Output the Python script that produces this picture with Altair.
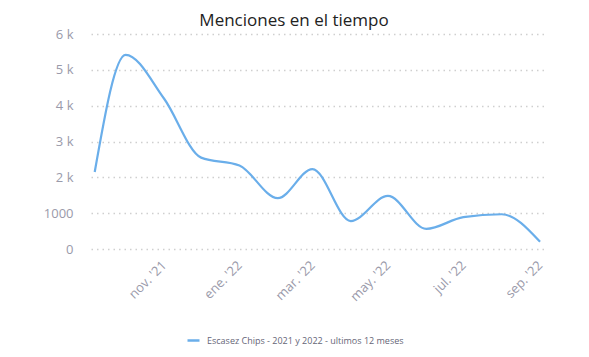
import altair as alt
import pandas as pd

dates = ["2021-09-06", "2021-10-01", "2021-11-01", "2021-12-01", "2022-01-01",
         "2022-02-01", "2022-03-01", "2022-04-01", "2022-05-01", "2022-06-01",
         "2022-07-01", "2022-08-01", "2022-09-01"]
values = [2150, 5420, 4200, 2550, 2330, 1420, 2230, 780, 1480, 560, 890, 970, 200]
series_name = "Escasez Chips - 2021 y 2022 - ultimos 12 meses"
y_ticks = [0, 1000, 2000, 3000, 4000, 5000, 6000]
x_ticks = [(2021, 11), (2022, 1), (2022, 3), (2022, 5), (2022, 7), (2022, 9)]

df = pd.DataFrame({
    "fecha": [d + "T00:00:00" for d in dates],
    "menciones": values,
    "serie": [series_name] * len(values),
})

font = "Open Sans"
label_color = "#9a9aaa"

month_expr = "['ene.','feb.','mar.','abr.','may.','jun.','jul.','ago.','sep.','oct.','nov.','dic.'][month(datum.value)] + \" '\" + timeFormat(datum.value, '%y')"

chart = alt.Chart(df).mark_line(
    interpolate="monotone", strokeWidth=2.2
).encode(
    x=alt.X(
        "fecha:T",
        title=None,
        scale=alt.Scale(
            domain=[alt.DateTime(year=2021, month=9, date=3),
                    alt.DateTime(year=2022, month=9, date=5)]
        ),
        axis=alt.Axis(
            values=[alt.DateTime(year=y, month=m, date=1) for y, m in x_ticks],
            labelExpr=month_expr,
            labelAngle=-45,
            labelAlign="right",
            labelBaseline="middle",
            labelPadding=14,
            labelFont=font,
            labelFontSize=13,
            labelColor=label_color,
            grid=False,
            domain=False,
            ticks=False,
        ),
    ),
    y=alt.Y(
        "menciones:Q",
        title=None,
        scale=alt.Scale(domain=[0, 6000], nice=False),
        axis=alt.Axis(
            values=y_ticks,
            labelExpr="datum.value == 0 ? '0' : (datum.value == 1000 ? '1000' : (datum.value / 1000) + ' k')",
            labelFont=font,
            labelFontSize=13,
            labelColor=label_color,
            labelPadding=18,
            grid=True,
            gridDash=[1.5, 4],
            gridColor="#cfcfcf",
            gridWidth=1.5,
            domain=False,
            ticks=False,
        ),
    ),
    color=alt.Color(
        "serie:N",
        scale=alt.Scale(range=["#6aaeea"]),
        legend=alt.Legend(
            title=None,
            orient="none",
            legendX=95,
            legendY=299,
            symbolType="stroke",
            symbolSize=144,
            symbolStrokeWidth=2.5,
            labelFont=font,
            labelFontSize=9,
            labelLimit=400,
            labelColor="#666677",
            labelOffset=6,
        ),
    ),
).properties(
    width=454,
    height=215,
    autosize=alt.AutoSizeParams(type="none"),
    padding={"left": 83, "top": 26, "right": 36, "bottom": 100},
    title=alt.TitleParams(
        "Menciones en el tiempo",
        font=font,
        fontSize=17,
        fontWeight="normal",
        color="#222222",
        anchor="middle",
        dx=-24,
        offset=0,
        dy=2,
    ),
).configure_view(stroke=None)

chart.save("out.html", embed_options={"renderer": "svg", "actions": False})
